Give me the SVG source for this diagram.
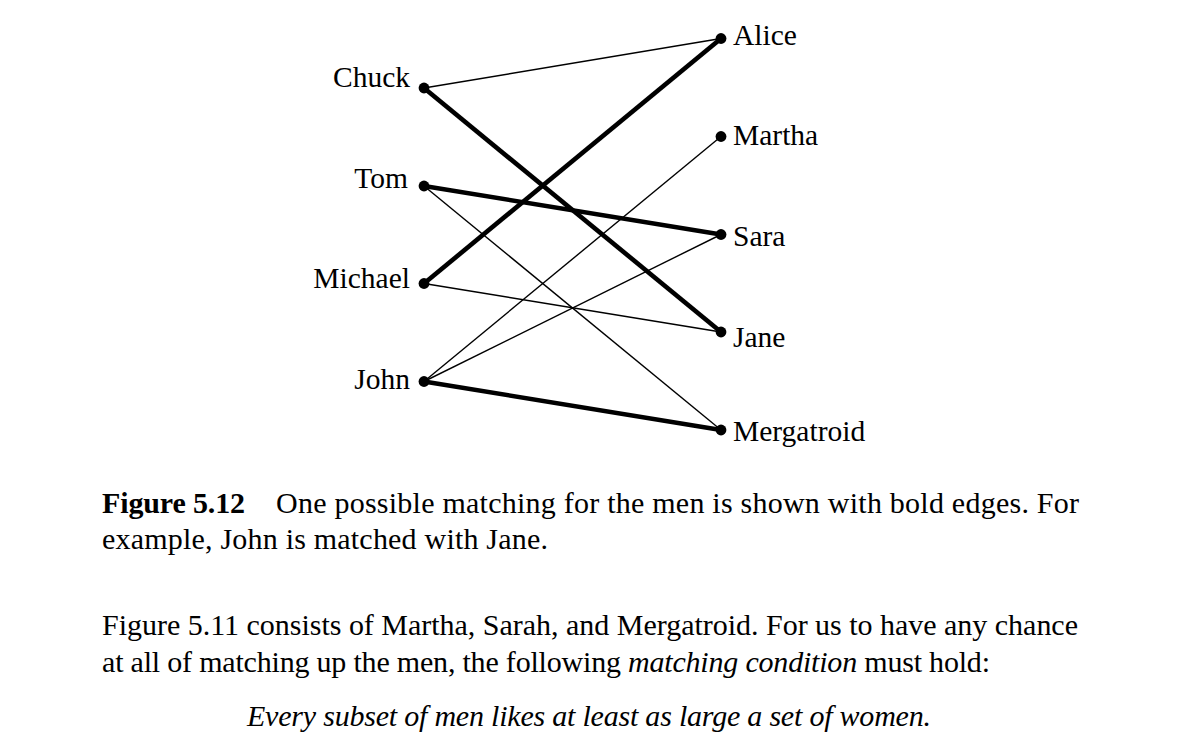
<svg xmlns="http://www.w3.org/2000/svg" width="1185" height="751" viewBox="0 0 1185 751">
<style>
text{font-family:"Liberation Serif","Times New Roman",serif;font-size:30px;fill:#000}
.lbl{font-size:29.5px}
.l{text-anchor:end}
.thin{stroke:#000;stroke-width:1.4;fill:none}
.bold{stroke:#000;stroke-width:4.6;fill:none}
.dot{fill:#000}
.b{font-weight:bold}
.i{font-style:italic}
</style>
<rect width="1185" height="751" fill="#fff"/>
<g id="connectors">
<line class="thin" x1="424" y1="88" x2="721" y2="38.5"/>
<line class="bold" x1="424" y1="88" x2="721" y2="332"/>
<line class="bold" x1="424" y1="186" x2="721" y2="234.5"/>
<line class="thin" x1="424" y1="186" x2="721" y2="430"/>
<line class="bold" x1="424" y1="283.5" x2="721" y2="38.5"/>
<line class="thin" x1="424" y1="283.5" x2="721" y2="332"/>
<line class="thin" x1="424" y1="381.5" x2="721" y2="136.5"/>
<line class="thin" x1="424" y1="381.5" x2="721" y2="234.5"/>
<line class="bold" x1="424" y1="381.5" x2="721" y2="430"/>
</g>
<g id="chuck"><circle class="dot" cx="424" cy="88" r="5.4"/><text class="lbl l" x="410" y="87">Chuck</text></g>
<g id="tom"><circle class="dot" cx="424" cy="186" r="5.4"/><text class="lbl l" x="408" y="188">Tom</text></g>
<g id="michael"><circle class="dot" cx="424" cy="283.5" r="5.4"/><text class="lbl l" x="410" y="288">Michael</text></g>
<g id="john"><circle class="dot" cx="424" cy="381.5" r="5.4"/><text class="lbl l" x="410" y="389">John</text></g>
<g id="alice"><circle class="dot" cx="721" cy="38.5" r="5.4"/><text class="lbl" x="733" y="45">Alice</text></g>
<g id="martha"><circle class="dot" cx="721" cy="136.5" r="5.4"/><text class="lbl" x="733" y="145">Martha</text></g>
<g id="sara"><circle class="dot" cx="721" cy="234.5" r="5.4"/><text class="lbl" x="733" y="246">Sara</text></g>
<g id="jane"><circle class="dot" cx="721" cy="332" r="5.4"/><text class="lbl" x="733" y="347">Jane</text></g>
<g id="mergatroid"><circle class="dot" cx="721" cy="430" r="5.4"/><text class="lbl" x="733" y="441">Mergatroid</text></g>
<g id="caption">
<text class="b" x="102" y="513" textLength="143" lengthAdjust="spacing">Figure 5.12</text>
<text x="276" y="513" textLength="803" lengthAdjust="spacing">One possible matching for the men is shown with bold edges.  For</text>
<text x="102" y="549" textLength="446" lengthAdjust="spacing">example, John is matched with Jane.</text>
</g>
<g id="paragraph">
<text x="102" y="635" textLength="976" lengthAdjust="spacing">Figure 5.11 consists of Martha, Sarah, and Mergatroid. For us to have any chance</text>
<text x="102" y="672" textLength="888" lengthAdjust="spacing">at all of matching up the men, the following <tspan class="i">matching condition</tspan> must hold:</text>
<text class="i" x="247" y="726" textLength="684" lengthAdjust="spacing">Every subset of men likes at least as large a set of women.</text>
</g>
</svg>
